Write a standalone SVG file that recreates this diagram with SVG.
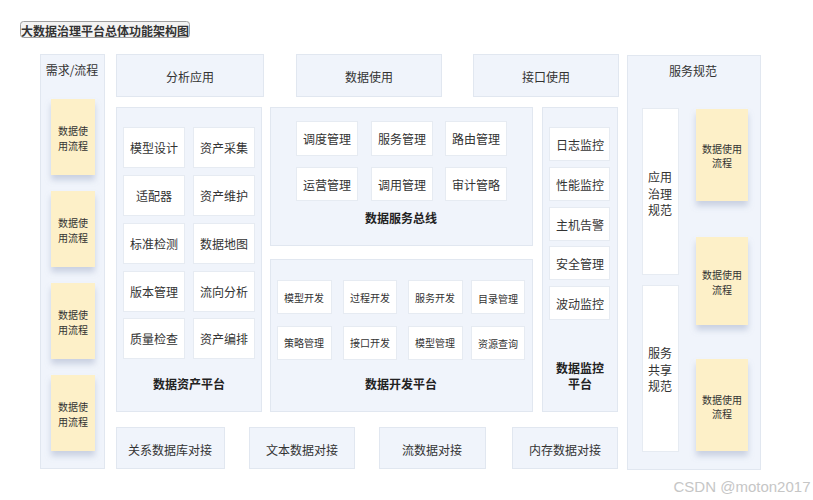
<svg xmlns="http://www.w3.org/2000/svg" width="813" height="500" viewBox="0 0 813 500">
<defs>
<style>
text{font-family:"Noto Sans CJK SC","Noto Sans",sans-serif;fill:#333;text-anchor:middle;dominant-baseline:central}
.panel{fill:#f0f4fb;stroke:#e1e7f0;stroke-width:1}
.box{fill:#ffffff;stroke:#e6ebf2;stroke-width:1}
.sticky{fill:#fdf0c8}
.t12{font-size:12px}
.t10{font-size:10px}
.b{font-weight:bold;font-size:12px;fill:#222}
</style>
<filter id="sh" x="-30%" y="-20%" width="160%" height="150%">
<feDropShadow dx="0" dy="5" stdDeviation="3" flood-color="#7f8fb0" flood-opacity="0.35"/>
</filter>
</defs>
<rect width="813" height="500" fill="#ffffff"/>

<g id="title">
<rect x="20.5" y="21.5" width="169" height="16" rx="3" fill="#f3f3f3" stroke="#a0a0a0"/>
<text x="105" y="30" style="font-size:12px;font-weight:bold;fill:#333">大数据治理平台总体功能架构图</text>
</g>

<g id="demand">
<rect class="panel" x="40.5" y="54.5" width="64" height="414"/>
<text class="t12" x="72" y="69">需求/流程</text>
<g filter="url(#sh)">
<rect class="sticky" x="51" y="99" width="44" height="76"/>
<rect class="sticky" x="51" y="191" width="44" height="76"/>
<rect class="sticky" x="51" y="283" width="44" height="76"/>
<rect class="sticky" x="51" y="375" width="44" height="76"/>
</g>
<text class="t10" x="73" y="130">数据使</text><text class="t10" x="73" y="145">用流程</text>
<text class="t10" x="73" y="222">数据使</text><text class="t10" x="73" y="237">用流程</text>
<text class="t10" x="73" y="314">数据使</text><text class="t10" x="73" y="329">用流程</text>
<text class="t10" x="73" y="406">数据使</text><text class="t10" x="73" y="421">用流程</text>
</g>

<g id="top-apps">
<rect class="panel" x="116.5" y="54.5" width="147" height="42"/>
<text class="t12" x="190" y="76">分析应用</text>
<rect class="panel" x="296.5" y="54.5" width="145" height="42"/>
<text class="t12" x="369" y="76">数据使用</text>
<rect class="panel" x="473.5" y="54.5" width="145" height="42"/>
<text class="t12" x="546" y="76">接口使用</text>
</g>

<g id="asset-platform">
<rect class="panel" x="116.5" y="107.5" width="145" height="304"/>
<rect class="box" x="123.5" y="127.5" width="61" height="40"/><text class="t12" x="154" y="147">模型设计</text>
<rect class="box" x="193.5" y="127.5" width="61" height="40"/><text class="t12" x="224" y="147">资产采集</text>
<rect class="box" x="123.5" y="175.5" width="61" height="40"/><text class="t12" x="154" y="195">适配器</text>
<rect class="box" x="193.5" y="175.5" width="61" height="40"/><text class="t12" x="224" y="195">资产维护</text>
<rect class="box" x="123.5" y="223.5" width="61" height="40"/><text class="t12" x="154" y="243">标准检测</text>
<rect class="box" x="193.5" y="223.5" width="61" height="40"/><text class="t12" x="224" y="243">数据地图</text>
<rect class="box" x="123.5" y="271.5" width="61" height="40"/><text class="t12" x="154" y="291">版本管理</text>
<rect class="box" x="193.5" y="271.5" width="61" height="40"/><text class="t12" x="224" y="291">流向分析</text>
<rect class="box" x="123.5" y="318.5" width="61" height="40"/><text class="t12" x="154" y="338">质量检查</text>
<rect class="box" x="193.5" y="318.5" width="61" height="40"/><text class="t12" x="224" y="338">资产编排</text>
<text class="b" x="189" y="383">数据资产平台</text>
</g>

<g id="service-bus">
<rect class="panel" x="270.5" y="107.5" width="262" height="138"/>
<rect class="box" x="296.5" y="121.5" width="61" height="34"/><text class="t12" x="327" y="138">调度管理</text>
<rect class="box" x="371.5" y="121.5" width="61" height="34"/><text class="t12" x="402" y="138">服务管理</text>
<rect class="box" x="445.5" y="121.5" width="61" height="34"/><text class="t12" x="476" y="138">路由管理</text>
<rect class="box" x="296.5" y="167.5" width="61" height="33"/><text class="t12" x="327" y="184">运营管理</text>
<rect class="box" x="371.5" y="167.5" width="61" height="33"/><text class="t12" x="402" y="184">调用管理</text>
<rect class="box" x="445.5" y="167.5" width="61" height="33"/><text class="t12" x="476" y="184">审计管略</text>
<text class="b" x="401" y="217">数据服务总线</text>
</g>

<g id="dev-platform">
<rect class="panel" x="270.5" y="259.5" width="262" height="152"/>
<rect class="box" x="277.5" y="280.5" width="54" height="33"/><text class="t10" x="304" y="297">模型开发</text>
<rect class="box" x="343.5" y="280.5" width="53" height="33"/><text class="t10" x="370" y="297">过程开发</text>
<rect class="box" x="408.5" y="280.5" width="54" height="33"/><text class="t10" x="435" y="297">服务开发</text>
<rect class="box" x="471.5" y="280.5" width="53" height="33"/><text class="t10" x="498" y="298">目录管理</text>
<rect class="box" x="277.5" y="326.5" width="54" height="33"/><text class="t10" x="304" y="342">策略管理</text>
<rect class="box" x="343.5" y="326.5" width="53" height="33"/><text class="t10" x="370" y="342">接口开发</text>
<rect class="box" x="408.5" y="326.5" width="54" height="33"/><text class="t10" x="435" y="342">模型管理</text>
<rect class="box" x="471.5" y="326.5" width="53" height="33"/><text class="t10" x="498" y="343">资源查询</text>
<text class="b" x="401" y="383">数据开发平台</text>
</g>

<g id="monitor-platform">
<rect class="panel" x="542.5" y="107.5" width="75" height="304"/>
<rect class="box" x="549.5" y="127.5" width="60" height="33"/><text class="t12" x="580" y="144">日志监控</text>
<rect class="box" x="549.5" y="167.5" width="60" height="33"/><text class="t12" x="580" y="184">性能监控</text>
<rect class="box" x="549.5" y="207.5" width="60" height="33"/><text class="t12" x="580" y="224">主机告警</text>
<rect class="box" x="549.5" y="246.5" width="60" height="33"/><text class="t12" x="580" y="263">安全管理</text>
<rect class="box" x="549.5" y="286.5" width="60" height="33"/><text class="t12" x="580" y="303">波动监控</text>
<text class="b" x="580" y="367">数据监控</text>
<text class="b" x="580" y="383">平台</text>
</g>

<g id="service-spec">
<rect class="panel" x="627.5" y="55.5" width="133" height="414"/>
<text class="t12" x="693" y="70">服务规范</text>
<rect class="box" x="642.5" y="108.5" width="36" height="166"/>
<text class="t12" x="660" y="176">应用</text><text class="t12" x="660" y="193">治理</text><text class="t12" x="660" y="209">规范</text>
<rect class="box" x="642.5" y="285.5" width="36" height="166"/>
<text class="t12" x="660" y="352">服务</text><text class="t12" x="660" y="369">共享</text><text class="t12" x="660" y="385">规范</text>
<g filter="url(#sh)">
<rect class="sticky" x="696" y="109" width="52" height="92"/>
<rect class="sticky" x="696" y="237" width="52" height="88"/>
<rect class="sticky" x="696" y="359" width="52" height="92"/>
</g>
<text class="t10" x="722" y="148">数据使用</text><text class="t10" x="722" y="162">流程</text>
<text class="t10" x="722" y="274">数据使用</text><text class="t10" x="722" y="289">流程</text>
<text class="t10" x="722" y="399">数据使用</text><text class="t10" x="722" y="413">流程</text>
</g>

<g id="data-sources">
<rect class="panel" x="116.5" y="427.5" width="108" height="41"/>
<text class="t12" x="170" y="449">关系数据库对接</text>
<rect class="panel" x="249.5" y="427.5" width="105" height="41"/>
<text class="t12" x="302" y="449">文本数据对接</text>
<rect class="panel" x="379.5" y="427.5" width="106" height="41"/>
<text class="t12" x="432" y="449">流数据对接</text>
<rect class="panel" x="512.5" y="427.5" width="105" height="41"/>
<text class="t12" x="565" y="449">内存数据对接</text>
</g>

<g id="connectors"></g>

<text x="742" y="486" style="font-family:'Liberation Sans',Arial,sans-serif;font-size:15px;fill:#c6c6c6">CSDN @moton2017</text>
</svg>
